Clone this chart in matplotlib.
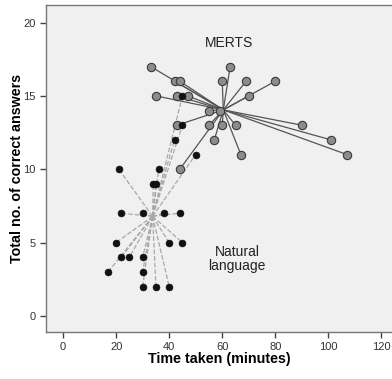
import matplotlib.pyplot as plt
import numpy as np

plt.rcParams['font.family'] = ['Liberation Sans', 'DejaVu Sans']

# MERTS participants: time taken (minutes), correct answers
merts_time = [33, 63, 42, 44, 60, 69, 80, 35, 43, 47, 70, 55, 43, 55,
              60, 65, 90, 57, 101, 67, 107, 44, 59]
merts_score = [17, 17, 16, 16, 16, 16, 16, 15, 15, 15, 15, 14, 13, 13,
               13, 13, 13, 12, 12, 11, 11, 10, 14]

# Natural language participants
nl_time = [21, 36, 34, 35, 22, 30, 38, 44, 20, 40, 45, 22, 25, 30,
           17, 30, 30, 35, 40, 42, 50, 45, 45]
nl_score = [10, 10, 9, 9, 7, 7, 7, 7, 5, 5, 5, 4, 4, 4,
            3, 3, 2, 2, 2, 12, 11, 13, 15]

fig = plt.figure(figsize=(3.92, 3.79), dpi=100)
ax = fig.add_axes([0.117, 0.124, 0.883, 0.863])
ax.set_facecolor('#f0f0f0')

# spikes to group centroids
cx, cy = np.mean(nl_time), np.mean(nl_score)
for x, y in zip(nl_time, nl_score):
    ax.plot([cx, x], [cy, y], ls='--', color='#a8a8a8', lw=0.9, zorder=2)

mx, my = np.mean(merts_time), np.mean(merts_score)
for x, y in zip(merts_time, merts_score):
    ax.plot([mx, x], [my, y], ls='-', color='#555555', lw=0.9, zorder=3)

ax.scatter(merts_time, merts_score, s=36, c='#8c8c8c', edgecolors='#3a3a3a',
           linewidths=0.8, zorder=4)
ax.scatter(nl_time, nl_score, s=25, c='#111111', edgecolors='#111111',
           linewidths=0.4, zorder=5)

ax.text(62.4, 18.6, 'MERTS', ha='center', va='center', fontsize=10, color='#222222')
ax.text(65.6, 3.9, 'Natural\nlanguage', ha='center', va='center', fontsize=10,
        color='#222222', linespacing=1.0)

ax.set_xlim(-6.5, 124)
ax.set_ylim(-1.1, 21.2)
ax.set_xticks([0, 20, 40, 60, 80, 100, 120])
ax.set_yticks([0, 5, 10, 15, 20])

ax.spines['right'].set_visible(False)
for s in ['left', 'bottom', 'top']:
    ax.spines[s].set_color('#777777')
    ax.spines[s].set_linewidth(1.0)
ax.tick_params(direction='out', length=4, width=1, colors='#444444',
               labelsize=8, labelcolor='#333333')

ax.set_xlabel('Time taken (minutes)', fontsize=10.3, fontweight='bold', labelpad=0)
ax.set_ylabel('Total no. of correct answers', fontsize=10.3, fontweight='bold', labelpad=-1)

fig.savefig('out.png', dpi=100)
